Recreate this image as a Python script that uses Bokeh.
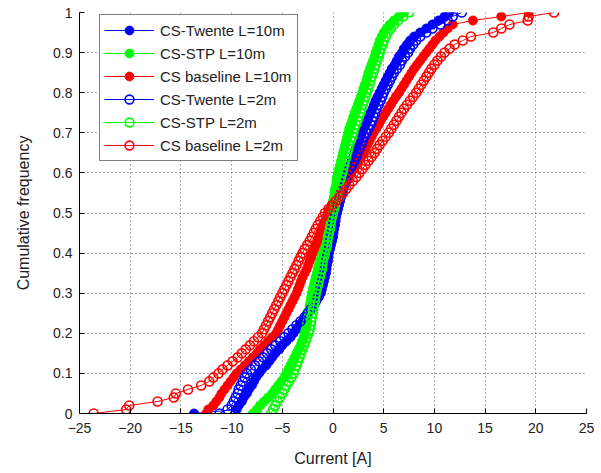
from bokeh.plotting import figure
from bokeh.models import Range1d, FixedTicker, Legend, LegendItem
from bokeh.embed import file_html
from bokeh.resources import INLINE

# Cumulative frequency levels (101 samples per series)
cum_freq = [i / 100 for i in range(101)]

twente_10m = [-13.7, -9.5, -9.3, -9.0, -8.8, -8.5, -8.3, -8.0, -7.8, -7.6,
              -7.3, -7.0, -6.6, -6.3, -6.0, -5.7, -5.3, -5.0, -4.6, -4.2,
              -3.9, -3.6, -3.3, -3.0, -2.7, -2.5, -2.2, -1.9, -1.7, -1.4,
              -1.2, -1.1, -1.0, -0.9, -0.8, -0.7, -0.65, -0.6, -0.5, -0.45,
              -0.4, -0.3, -0.2, -0.1, 0.0, 0.05, 0.1, 0.2, 0.25, 0.3,
              0.4, 0.5, 0.6, 0.7, 0.8, 0.9, 1.0, 1.1, 1.2, 1.3,
              1.4, 1.55, 1.7, 1.85, 2.0, 2.1, 2.25, 2.4, 2.55, 2.7,
              2.85, 3.0, 3.2, 3.35, 3.5, 3.7, 3.9, 4.05, 4.2, 4.4,
              4.6, 4.8, 5.0, 5.2, 5.4, 5.6, 5.8, 6.1, 6.3, 6.5,
              6.8, 7.0, 7.3, 7.6, 8.0, 8.6, 9.2, 9.8, 10.4, 11.0, 11.5]

stp_10m = [-7.9, -7.5, -7.2, -6.8, -6.4, -6.0, -5.7, -5.4, -5.1, -4.8,
           -4.6, -4.4, -4.2, -4.0, -3.8, -3.6, -3.4, -3.2, -3.05, -2.9,
           -2.8, -2.7, -2.6, -2.55, -2.5, -2.4, -2.35, -2.3, -2.2, -2.15,
           -2.1, -2.0, -1.9, -1.8, -1.7, -1.6, -1.5, -1.4, -1.3, -1.15,
           -1.0, -0.9, -0.85, -0.8, -0.7, -0.6, -0.55, -0.5, -0.4, -0.35,
           -0.3, -0.2, -0.1, 0.0, 0.1, 0.15, 0.2, 0.3, 0.35, 0.4,
           0.5, 0.6, 0.7, 0.8, 0.9, 1.0, 1.1, 1.2, 1.3, 1.4,
           1.5, 1.6, 1.75, 1.9, 2.0, 2.15, 2.3, 2.45, 2.6, 2.75,
           2.9, 3.0, 3.15, 3.3, 3.4, 3.5, 3.65, 3.8, 3.95, 4.1,
           4.2, 4.35, 4.5, 4.6, 4.8, 5.0, 5.3, 5.6, 6.0, 6.5, 7.0]

baseline_10m = [-12.5, -12.3, -11.8, -11.5, -11.2, -11.0, -10.7, -10.4, -10.1, -9.8,
                -9.5, -9.1, -8.7, -8.3, -7.9, -7.5, -7.2, -6.8, -6.4, -6.0,
                -5.6, -5.4, -5.2, -5.0, -4.8, -4.6, -4.4, -4.2, -4.0, -3.8,
                -3.6, -3.45, -3.3, -3.15, -3.0, -2.8, -2.6, -2.45, -2.3, -2.15,
                -2.0, -1.85, -1.7, -1.55, -1.4, -1.25, -1.1, -0.95, -0.8, -0.65,
                -0.5, -0.3, -0.05, 0.2, 0.45, 0.7, 0.9, 1.1, 1.35, 1.6,
                1.8, 2.05, 2.3, 2.5, 2.75, 3.0, 3.2, 3.4, 3.6, 3.8,
                4.0, 4.25, 4.5, 4.7, 4.95, 5.2, 5.45, 5.7, 5.95, 6.2,
                6.5, 6.75, 7.0, 7.25, 7.5, 7.75, 8.0, 8.3, 8.6, 8.9,
                9.2, 9.5, 9.8, 10.1, 10.5, 10.9, 11.3, 11.8, 13.8, 16.6, 19.3]

twente_2m = [-11.2, -10.4, -10.0, -9.8, -9.6, -9.4, -9.3, -9.1, -8.9, -8.7,
             -8.5, -8.1, -7.7, -7.3, -6.9, -6.5, -6.1, -5.7, -5.2, -4.8,
             -4.4, -4.0, -3.6, -3.2, -2.8, -2.5, -2.2, -1.9, -1.7, -1.5,
             -1.3, -1.25, -1.2, -1.1, -1.0, -0.9, -0.8, -0.75, -0.7, -0.6,
             -0.5, -0.45, -0.4, -0.3, -0.25, -0.2, -0.1, 0.0, 0.05, 0.1,
             0.2, 0.3, 0.45, 0.6, 0.7, 0.85, 1.0, 1.1, 1.25, 1.4,
             1.5, 1.7, 1.9, 2.1, 2.3, 2.4, 2.6, 2.8, 2.95, 3.1,
             3.3, 3.5, 3.7, 3.85, 4.0, 4.15, 4.3, 4.5, 4.7, 4.85,
             5.0, 5.2, 5.4, 5.6, 5.8, 6.0, 6.3, 6.6, 6.8, 7.1,
             7.4, 7.6, 7.9, 8.2, 8.6, 9.2, 9.8, 10.6, 11.3, 11.8, 12.7]

stp_2m = [-6.1, -5.9, -5.7, -5.5, -5.25, -5.0, -4.8, -4.6, -4.35, -4.1,
          -3.9, -3.75, -3.6, -3.45, -3.3, -3.15, -3.0, -2.85, -2.7, -2.55,
          -2.4, -2.3, -2.2, -2.15, -2.1, -2.0, -1.95, -1.9, -1.8, -1.75,
          -1.7, -1.6, -1.5, -1.4, -1.3, -1.2, -1.1, -1.05, -1.0, -0.9,
          -0.8, -0.7, -0.6, -0.55, -0.5, -0.4, -0.3, -0.25, -0.2, -0.1,
          0.0, 0.1, 0.2, 0.3, 0.4, 0.45, 0.55, 0.6, 0.7, 0.8,
          0.9, 1.0, 1.1, 1.2, 1.3, 1.4, 1.5, 1.6, 1.75, 1.9,
          2.0, 2.1, 2.25, 2.4, 2.55, 2.7, 2.8, 2.95, 3.05, 3.2,
          3.3, 3.45, 3.6, 3.7, 3.8, 3.95, 4.1, 4.2, 4.35, 4.5,
          4.6, 4.75, 4.9, 5.0, 5.2, 5.4, 5.7, 6.0, 6.4, 6.9, 7.5]

baseline_2m = [-23.6, -20.4, -20.1, -17.3, -15.7, -15.5, -14.3, -13.0, -12.2, -11.8,
               -11.3, -10.9, -10.4, -9.9, -9.4, -9.0, -8.6, -8.2, -7.8, -7.4,
               -7.0, -6.8, -6.6, -6.4, -6.2, -6.0, -5.8, -5.6, -5.4, -5.2,
               -5.0, -4.8, -4.6, -4.4, -4.2, -4.0, -3.8, -3.6, -3.4, -3.2,
               -3.0, -2.8, -2.55, -2.3, -2.1, -1.9, -1.7, -1.5, -1.25, -1.0,
               -0.8, -0.45, -0.1, 0.3, 0.65, 1.0, 1.3, 1.6, 1.95, 2.3,
               2.6, 2.9, 3.2, 3.5, 3.8, 4.1, 4.35, 4.6, 4.9, 5.2,
               5.5, 5.75, 6.0, 6.25, 6.5, 6.75, 7.0, 7.3, 7.6, 7.9,
               8.2, 8.45, 8.7, 8.95, 9.2, 9.45, 9.7, 10.0, 10.3, 10.65,
               11.0, 11.5, 12.0, 12.8, 13.6, 15.8, 16.6, 17.4, 19.2, 19.3, 21.8]

series_names = ["CS-Twente L=10m", "CS-STP L=10m", "CS baseline L=10m",
                "CS-Twente L=2m", "CS-STP L=2m", "CS baseline L=2m"]
series_values = [twente_10m, stp_10m, baseline_10m, twente_2m, stp_2m, baseline_2m]
series_colors = ["#0000ff", "#00ff00", "#ff0000", "#0000ff", "#00ff00", "#ff0000"]
series_filled = [True, True, True, False, False, False]

x_ticks = [-25, -20, -15, -10, -5, 0, 5, 10, 15, 20, 25]
y_ticks = [0, 0.1, 0.2, 0.3, 0.4, 0.5, 0.6, 0.7, 0.8, 0.9, 1]
y_tick_labels = ["0", "0.1", "0.2", "0.3", "0.4", "0.5", "0.6", "0.7", "0.8", "0.9", "1"]

FONT = "Liberation Sans"

p = figure(width=601, height=473, output_backend="svg", toolbar_location=None,
           x_range=Range1d(-25, 25), y_range=Range1d(0, 1),
           min_border_left=79, min_border_right=15, min_border_top=12, min_border_bottom=60)
p.outline_line_color = None
p.background_fill_color = "white"
p.border_fill_color = "white"

for ax in (p.xaxis[0], p.yaxis[0]):
    ax.axis_line_color = "black"
    ax.axis_line_width = 1
    ax.major_tick_in = 5
    ax.major_tick_out = 0
    ax.minor_tick_line_color = None
    ax.major_tick_line_color = "black"
    ax.major_label_text_font = FONT
    ax.major_label_text_font_size = "14px"
    ax.major_label_text_color = "#222222"
    ax.axis_label_text_font = FONT
    ax.axis_label_text_font_size = "16px"
    ax.axis_label_text_font_style = "normal"
    ax.axis_label_text_color = "#222222"

p.xaxis[0].ticker = FixedTicker(ticks=x_ticks)
p.yaxis[0].ticker = FixedTicker(ticks=y_ticks)
p.yaxis[0].major_label_overrides = {t: l for t, l in zip(y_ticks, y_tick_labels)}
p.xaxis[0].major_label_standoff = 9
p.yaxis[0].major_label_standoff = 7
p.xaxis[0].axis_label = "Current [A]"
p.yaxis[0].axis_label = "Cumulative frequency"
p.xaxis[0].axis_label_standoff = 14
p.yaxis[0].axis_label_standoff = 18

for g in (p.xgrid[0], p.ygrid[0]):
    g.grid_line_color = "#333333"
    g.grid_line_dash = "1 3"
    g.grid_line_width = 1
    g.grid_line_alpha = 0.8

items = []
for name, vals, col, filled in zip(series_names, series_values, series_colors, series_filled):
    ln = p.line(vals, cum_freq, line_color=col, line_width=1)
    if filled:
        sc = p.scatter(vals, cum_freq, marker="circle", size=9, line_color=col,
                       fill_color=col, line_width=1)
    else:
        sc = p.scatter(vals, cum_freq, marker="circle", size=9, line_color=col,
                       fill_color=None, line_width=1.6)
    items.append(LegendItem(label=name, renderers=[ln, sc]))

legend = Legend(items=items, location=(20, 252))
legend.border_line_color = "black"
legend.border_line_width = 1
legend.background_fill_color = "white"
legend.background_fill_alpha = 1
legend.label_text_font = FONT
legend.label_text_font_size = "15px"
legend.label_text_color = "#222222"
legend.glyph_width = 50
legend.glyph_height = 22
legend.label_height = 22
legend.label_width = 133
legend.spacing = 1
legend.padding = 4
legend.label_standoff = 6
legend.margin = 0
p.add_layout(legend, "center")

open("out.html", "w").write(file_html(p, INLINE))
